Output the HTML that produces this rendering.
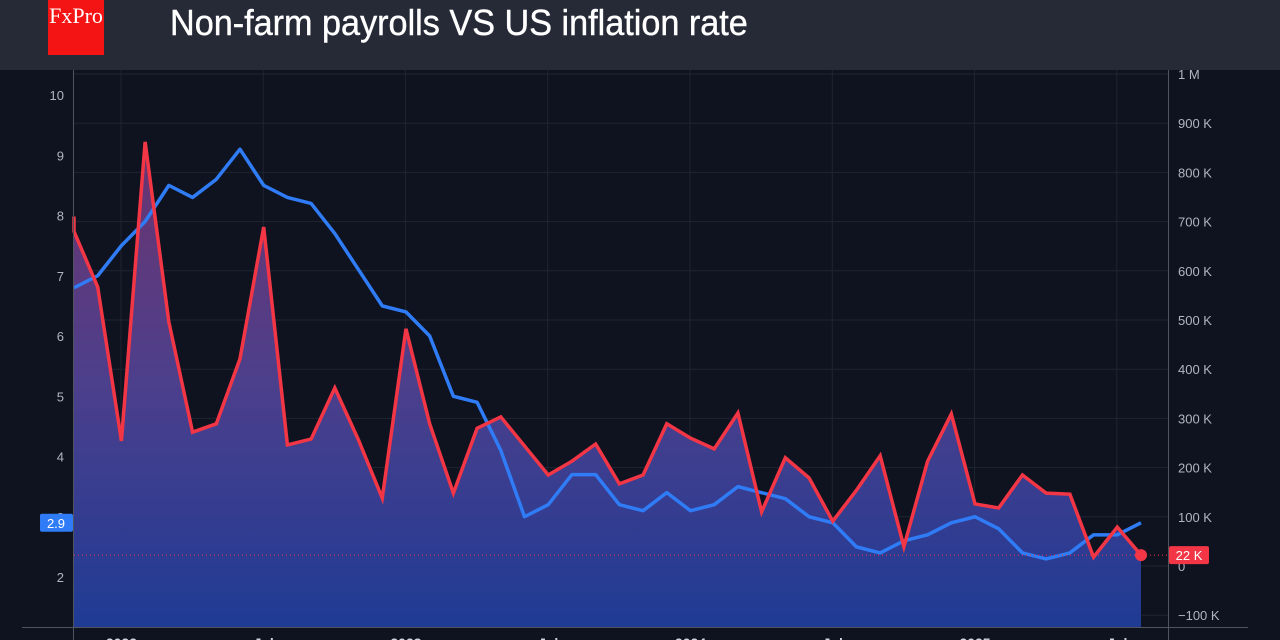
<!DOCTYPE html>
<html><head><meta charset="utf-8"><style>
html,body{margin:0;padding:0;background:#0e131f;width:1280px;height:640px;overflow:hidden;font-family:"Liberation Sans",sans-serif}
#hdr{position:absolute;left:0;top:0;width:1280px;height:70px;background:#262a36}
#logo{position:absolute;left:48px;top:-4px;width:56px;height:59px;background:#f41414;color:#fff;font-family:"Liberation Serif",serif;font-size:22px;text-align:center;line-height:40px}
#title{position:absolute;left:170px;top:2px;color:#fff;font-size:36px;line-height:42px;transform:scaleX(0.95);transform-origin:left;-webkit-text-stroke:0.4px #fff}
svg{position:absolute;left:0;top:0}
</style></head><body>
<div id="hdr"></div>
<div id="logo">FxPro</div>
<div id="title">Non-farm payrolls VS US inflation rate</div>
<svg id="chart" width="1280" height="640">
<defs>
<linearGradient id="fill" gradientUnits="userSpaceOnUse" x1="0" y1="140" x2="0" y2="627">
<stop offset="0" stop-color="#7a3a7e" stop-opacity="0.85"/><stop offset="0.5" stop-color="#4c3f8c"/><stop offset="1" stop-color="#1f3b94"/></linearGradient></defs>
</svg>
<script>
const payrolls=[680,567,254,862,496,272,289,421,689,246,258,362,256,138,482,289,148,280,303,244,185,213,248,167,185,289,260,238,311,110,220,179,91,154,224,39,213,309,126,118,185,148,146,18,79,22];
const inflation=[6.8,7.0,7.5,7.9,8.5,8.3,8.6,9.1,8.5,8.3,8.2,7.7,7.1,6.5,6.4,6.0,5.0,4.9,4.1,3.0,3.2,3.7,3.7,3.2,3.1,3.4,3.1,3.2,3.5,3.4,3.3,3.0,2.9,2.5,2.4,2.6,2.7,2.9,3.0,2.8,2.4,2.3,2.4,2.7,2.7,2.9];
const leftTicks=[2,3,4,5,6,7,8,9,10];
const rightTicks=[-100,0,100,200,300,400,500,600,700,800,900,1000];
const rightLabels=["\u2212100 K","0","100 K","200 K","300 K","400 K","500 K","600 K","700 K","800 K","900 K","1 M"];
const xLabels=["2022","Jul","2023","Jul","2024","Jul","2025","Jul"];
const xLabelIdx=[2,8,14,20,26,32,38,44];
const X0=74,X1=1168,Y0=70,YB=627;
const xs=i=>74+i*(1141-74)/(payrolls.length-1);
const yL=v=>95+(10-v)*60.25;
const yR=v=>566-v*0.492;
const svg=document.getElementById('chart');
const NS='http://www.w3.org/2000/svg';
function mk(t,a){const e=document.createElementNS(NS,t);for(const k in a)e.setAttribute(k,a[k]);svg.appendChild(e);return e;}
rightTicks.forEach(v=>{const e=mk('line',{x1:X0,x2:X1,y1:yR(v),y2:yR(v),stroke:'#1f2430','stroke-width':1});

});
xLabelIdx.forEach(i=>{const e=mk('line',{x1:xs(i)-0.5,x2:xs(i)-0.5,y1:Y0,y2:YB,stroke:'#1f2430','stroke-width':1});

});
const fp=mk('path',{d:'M'+X0+','+YB+' L'+X0+','+(yR(payrolls[0])-15)+' '+payrolls.map((v,i)=>'L'+xs(i)+','+yR(v)).join(' ')+' L'+xs(payrolls.length-1)+','+YB+' Z',fill:'url(#fill)'});


const bl=mk('polyline',{points:inflation.map((v,i)=>xs(i)+','+yL(v)).join(' '),fill:'none',stroke:'#2f7cf6','stroke-width':3.5,'stroke-linejoin':'round'});


const last=payrolls[payrolls.length-1];
const dl=mk('line',{x1:X0,x2:1168,y1:yR(last),y2:yR(last),stroke:'#f23645','stroke-width':1,'stroke-dasharray':'1 3'});


const rl=mk('polyline',{points:X0+','+(yR(payrolls[0])-15)+' '+payrolls.map((v,i)=>xs(i)+','+yR(v)).join(' '),fill:'none',stroke:'#f23645','stroke-width':3.5,'stroke-linejoin':'miter'});


const dot=mk('circle',{cx:xs(payrolls.length-1),cy:yR(last),r:6,fill:'#f23645'});


const la=mk('line',{x1:X0-0.5,x2:X0-0.5,y1:Y0,y2:640,stroke:'#50545e','stroke-width':1});


const ra=mk('line',{x1:X1+0.5,x2:X1+0.5,y1:Y0,y2:640,stroke:'#50545e','stroke-width':1});


const ba=mk('line',{x1:22,x2:1248,y1:YB+0.5,y2:YB+0.5,stroke:'#50545e','stroke-width':1});


leftTicks.forEach(v=>{const t=mk('text',{x:64,y:yL(v)+5,fill:'#b2b5be','font-size':13,'text-anchor':'end'});t.textContent=v;

});
rightTicks.forEach((v,i)=>{const t=mk('text',{x:1178,y:yR(v)+5,fill:'#b2b5be','font-size':13});t.textContent=rightLabels[i];

});
xLabelIdx.forEach((i,k)=>{const t=mk('text',{x:xs(i),y:648,fill:'#d1d4dc','font-size':14,'text-anchor':'middle','font-weight':'bold'});t.textContent=xLabels[k];

});
const lastInf=inflation[inflation.length-1];
const bb=mk('rect',{x:40,y:yL(lastInf)-9,width:33,height:18,rx:2,fill:'#2f7cf6'});


const bt=mk('text',{x:56,y:yL(lastInf)+5,fill:'#fff','font-size':13,'text-anchor':'middle'});bt.textContent=lastInf.toFixed(1);


const rb=mk('rect',{x:1169,y:yR(last)-9,width:40,height:18,rx:2,fill:'#f23645'});


const rt=mk('text',{x:1189,y:yR(last)+5,fill:'#fff','font-size':13,'text-anchor':'middle'});rt.textContent=last+' K';


</script>
</body></html>
